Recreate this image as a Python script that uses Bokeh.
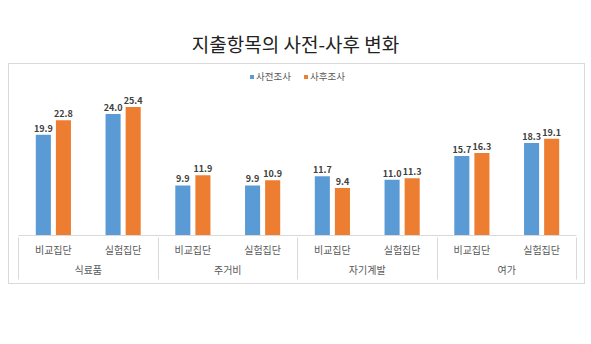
import numpy as np
from bokeh.plotting import figure
from bokeh.models import (ColumnDataSource, Range1d, Legend, LegendItem, LinearAxis,
                          FixedTicker, Div)
from bokeh.layouts import column
from bokeh.core.properties import value
from bokeh.embed import file_html
from bokeh.resources import INLINE

title_text = "지출항목의 사전-사후 변화"
categories = ["식료품", "주거비", "자기계발", "여가"]
groups = ["비교집단", "실험집단"]
series_names = ["사전조사", "사후조사"]
pre_values = [19.9, 24.0, 9.9, 9.9, 11.7, 11.0, 15.7, 18.3]
post_values = [22.8, 25.4, 11.9, 10.9, 9.4, 11.3, 16.3, 19.1]

colors = ["#5B9BD5", "#ED7D31"]
FONT = "Noto Sans CJK KR"

n_sub = len(groups)
n = len(categories) * n_sub
leaf_labels = [g for c in categories for g in groups]
centers = np.arange(n) + 0.5
group_centers = np.arange(len(categories)) * n_sub + n_sub / 2
boundaries = [float(b) for b in np.arange(len(categories) + 1) * n_sub]

off = 0.144
w = 0.216
source = ColumnDataSource(dict(
    x_pre=centers - off,
    x_post=centers + off,
    pre=pre_values,
    post=post_values,
    pre_lbl=[f"{v:.1f}" for v in pre_values],
    post_lbl=[f"{v:.1f}" for v in post_values],
))

p = figure(
    width=577, height=221,
    x_range=Range1d(0, n), y_range=Range1d(0, 33.8),
    output_backend="svg", toolbar_location=None,
    x_axis_type=None, y_axis_type=None,
    min_border_left=9, min_border_right=10, min_border_top=0, min_border_bottom=50,
    margin=(0, 0, 0, 8),
    styles={"border": "1px solid #d9d9d9"},
)

r1 = p.vbar(x="x_pre", top="pre", width=w, source=source,
            fill_color=colors[0], line_color=None)
r2 = p.vbar(x="x_post", top="post", width=w, source=source,
            fill_color=colors[1], line_color=None)

for xc, col, lbl in (("x_pre", "pre", "pre_lbl"), ("x_post", "post", "post_lbl")):
    p.text(x=xc, y=col, text=lbl, source=source,
           text_font=value(FONT), text_font_size="9px", text_font_style="bold",
           text_color="#404040", text_align="center", text_baseline="bottom",
           y_offset=-3)

legend = Legend(items=[LegendItem(label=series_names[0], renderers=[r1]),
                       LegendItem(label=series_names[1], renderers=[r2])],
                location="top_center", orientation="horizontal",
                border_line_color=None, background_fill_alpha=0,
                label_text_font=FONT, label_text_font_size="9.5px",
                label_text_color="#595959", glyph_width=5, glyph_height=5,
                label_standoff=2, spacing=12, padding=0, margin=5)
p.add_layout(legend)

p.xgrid.grid_line_color = None
p.ygrid.grid_line_color = None
p.outline_line_color = None

# leaf labels
ax1 = LinearAxis(ticker=FixedTicker(ticks=list(centers), minor_ticks=[]),
                 major_label_overrides={float(c): l for c, l in zip(centers, leaf_labels)})
ax1.axis_line_color = "#d9d9d9"
ax1.major_tick_line_color = None
ax1.minor_tick_line_color = None
ax1.major_label_text_font = FONT
ax1.major_label_text_font_size = "10px"
ax1.major_label_text_color = "#595959"
ax1.major_label_standoff = 0
p.add_layout(ax1, "below")

# group labels
ax2 = LinearAxis(ticker=FixedTicker(ticks=list(group_centers), minor_ticks=[]),
                 major_label_overrides={float(c): l for c, l in zip(group_centers, categories)})
ax2.axis_line_color = None
ax2.major_tick_line_color = None
ax2.minor_tick_line_color = None
ax2.major_label_text_font = FONT
ax2.major_label_text_font_size = "10px"
ax2.major_label_text_color = "#595959"
ax2.major_label_standoff = -4
p.add_layout(ax2, "below")

# group separators drawn upward from the outermost axis
ax3 = LinearAxis(ticker=FixedTicker(ticks=boundaries, minor_ticks=[]),
                 major_label_overrides={b: "" for b in boundaries})
ax3.axis_line_color = None
ax3.major_tick_line_color = "#d9d9d9"
ax3.major_tick_in = 42
ax3.major_tick_out = 0
ax3.minor_tick_line_color = None
ax3.major_label_text_font_size = "0px"
ax3.major_label_standoff = 0
p.add_layout(ax3, "below")

title = Div(text=title_text, width=591, height=63, margin=0,
            styles={"font-family": FONT, "font-size": "19px", "color": "#222222",
                    "text-align": "center", "line-height": "19px",
                    "padding-top": "34px", "box-sizing": "border-box"})

layout = column(title, p, spacing=0)
open("out.html", "w").write(file_html(layout, INLINE))
